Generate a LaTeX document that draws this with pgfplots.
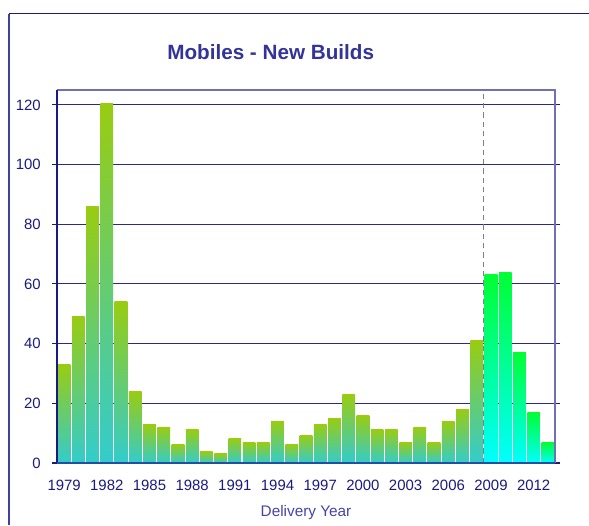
\documentclass[border=0pt]{standalone}
\usepackage{fontspec}
\setmainfont{Liberation Sans}
\usepackage{pgfplots}
\pgfplotsset{compat=1.18}
\definecolor{navy}{HTML}{1A1A80}
\definecolor{gridc}{HTML}{2A2A8A}
\definecolor{lightax}{HTML}{7070B8}
\definecolor{bottomax}{HTML}{2050A0}
\definecolor{framel}{HTML}{4040A0}
\definecolor{titlec}{HTML}{333399}
\definecolor{xlabc}{HTML}{4444AA}
\definecolor{barG}{HTML}{99CC11}
\definecolor{barC}{HTML}{33CCCC}
\definecolor{barG2}{HTML}{00FF33}
\definecolor{barC2}{HTML}{00FFFF}
\newcommand\barA[2]{\addplot[ybar, bar width=9.5pt, bar shift=0pt, draw=none, top color=barG, bottom color=barC] coordinates {(#1,#2)};}
\newcommand\barB[2]{\addplot[ybar, bar width=9.5pt, bar shift=0pt, draw=none, top color=barG2, bottom color=barC2] coordinates {(#1,#2)};}
\begin{document}
\begin{tikzpicture}
\useasboundingbox (0,0) rectangle (441.75pt,393.75pt);
\draw[color=framel, line width=1.5pt] (7.1pt,0) -- (7.1pt,383.6pt);
\draw[color=navy, line width=1.2pt] (6.4pt,383.6pt) -- (441.75pt,383.6pt);
\node[font=\fontsize{15.5}{18}\selectfont\bfseries, text=titlec, anchor=base] at (203pt,349.3pt) {Mobiles - New Builds};
\node[font=\fontsize{11.5}{13}\selectfont, text=xlabc, anchor=base] at (229.5pt,6.75pt) {Delivery Year};
\begin{axis}[
  at={(42.75pt,46.5pt)}, anchor=south west,
  scale only axis, width=373.5pt, height=279.75pt,
  xmin=-0.5, xmax=34.5, ymin=0, ymax=125,
  xtick={0,3,...,33},
  xticklabels={1979,1982,1985,1988,1991,1994,1997,2000,2003,2006,2009,2012},
  ytick={0,20,...,120},
  ymajorgrids, grid style={gridc, line width=0.7pt},
  axis line style={draw=none},
  tick align=outside,
  xtick style={draw=none},
  ytick style={navy, line width=0.8pt},
  major tick length=3.75pt,
  /pgf/number format/assume math mode=true,
  ticklabel style={font=\fontsize{11.2}{13}\selectfont, text=navy, inner sep=0pt},
  xticklabel style={anchor=base, yshift=-16.5pt},
  yticklabel style={anchor=east, xshift=-8.25pt},
  clip=false,
]
\barA{0}{33.0}\barA{1}{49.2}\barA{2}{86.1}\barA{3}{120.4}\barA{4}{54.2}\barA{5}{24.0}
\barA{6}{12.9}\barA{7}{11.9}\barA{8}{6.2}\barA{9}{11.2}\barA{10}{3.8}\barA{11}{3.1}
\barA{12}{8.2}\barA{13}{6.9}\barA{14}{6.9}\barA{15}{14.0}\barA{16}{6.3}\barA{17}{9.3}
\barA{18}{13.0}\barA{19}{15.0}\barA{20}{23.0}\barA{21}{16.0}\barA{22}{11.3}\barA{23}{11.3}
\barA{24}{6.9}\barA{25}{12.0}\barA{26}{6.9}\barA{27}{14.0}\barA{28}{18.0}\barA{29}{41.1}
\barB{30}{63.3}\barB{31}{64.0}\barB{32}{37.1}\barB{33}{17.0}\barB{34}{6.9}
\addplot[color=gray, line width=0.8pt, dash pattern=on 4pt off 3pt] coordinates {(29.5,0) (29.5,125)};
\draw[lightax, line width=1.2pt] (rel axis cs:0,1) -- (rel axis cs:1,1) -- (rel axis cs:1,0);
\draw[navy, line width=1pt] (rel axis cs:0,1) -- (rel axis cs:0,0);
\draw[bottomax, line width=1.5pt] (rel axis cs:0,0) -- (rel axis cs:1,0);
\end{axis}
\end{tikzpicture}
\end{document}
